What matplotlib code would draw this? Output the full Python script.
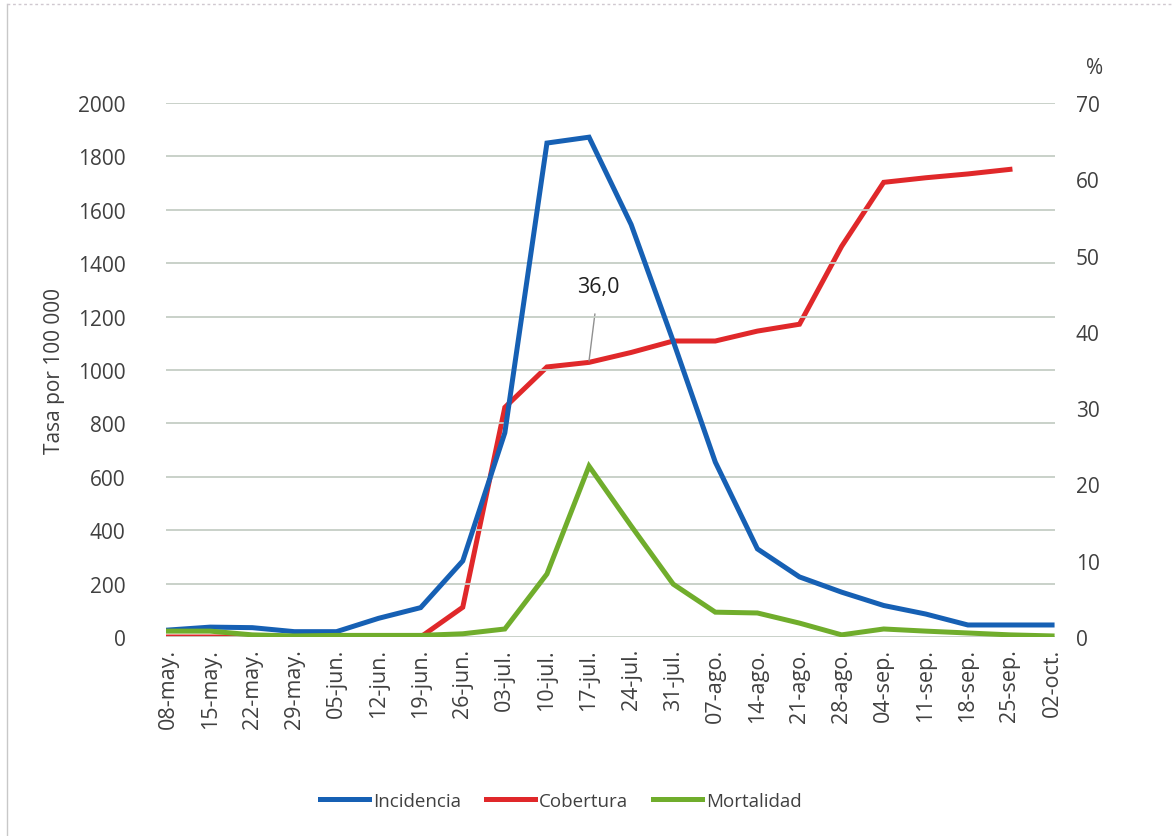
import matplotlib
matplotlib.use("Agg")
import matplotlib.pyplot as plt
from matplotlib.lines import Line2D

plt.rcParams['font.family'] = ['Open Sans', 'DejaVu Sans']

semanas = ["08-may.", "15-may.", "22-may.", "29-may.", "05-jun.", "12-jun.",
           "19-jun.", "26-jun.", "03-jul.", "10-jul.", "17-jul.", "24-jul.",
           "31-jul.", "07-ago.", "14-ago.", "21-ago.", "28-ago.", "04-sep.",
           "11-sep.", "18-sep.", "25-sep.", "02-oct."]

# Tasa por 100 000 habitantes
incidencia = [26, 37, 35, 20, 20, 70, 110, 285, 765, 1850, 1872, 1545,
              1108, 655, 330, 225, 168, 118, 86, 45, 45, 45]
mortalidad = [22, 22, 8, 4, 6, 6, 6, 12, 30, 236, 640, 416,
              198, 93, 90, 52, 8, 30, 22, 15, 8, 4]
# Cobertura de vacunación (%)
cobertura = [0, 0, 0, 0, 0, 0, 0, 3.9, 30.1, 35.4, 36.0, 37.3,
             38.8, 38.8, 40.1, 41.0, 51.2, 59.6, 60.2, 60.7, 61.3]

c_inc = "#1660b4"
c_cob = "#e0282a"
c_mor = "#70ad2c"
c_txt = "#404040"
c_grid = "#c5cec5"

fig = plt.figure(figsize=(11.74, 8.37), dpi=100)
W, H = 1174, 837
# chart-area border (left and top edges)
fig.add_artist(Line2D([7 / W, 7 / W], [0, (H - 5) / H], transform=fig.transFigure,
                      color="#c8c8c8", lw=1.0))
fig.add_artist(Line2D([7 / W, 1], [(H - 5) / H, (H - 5) / H], transform=fig.transFigure,
                      color="#d0c8d0", lw=1.0, ls=(0, (2, 2))))

ax = fig.add_axes([166 / W, (H - 638) / H, (1055 - 166) / W, (638 - 104) / H])
ax2 = ax.twinx()

x = list(range(len(semanas)))
lw = 3.6
l1, = ax.plot(x, incidencia, color=c_inc, lw=lw, solid_joinstyle="miter", zorder=3)
l3, = ax.plot(x, mortalidad, color=c_mor, lw=lw, solid_joinstyle="miter", zorder=4)
l2, = ax2.plot(x[:len(cobertura)], cobertura, color=c_cob, lw=lw,
               solid_joinstyle="miter", zorder=3)

ax.set_xlim(-0.05, len(semanas) - 1 + 0.07)
ax.set_ylim(0, 2000)
ax2.set_ylim(0, 70)
ax.set_yticks(range(0, 2001, 200))
ax2.set_yticks(range(0, 71, 10))
ax.set_xticks(x)
ax.set_xticklabels(semanas, rotation=90, fontsize=15.5, color=c_txt)

for a in (ax, ax2):
    for s in a.spines.values():
        s.set_visible(False)
    a.tick_params(length=0, labelsize=15, labelcolor=c_txt)
ax.tick_params(axis="x", labelsize=15.5)
ax.tick_params(axis="y", pad=29)
ax.tick_params(axis="x", pad=8)
ax2.tick_params(axis="y", pad=15)

ax.grid(axis="y", color=c_grid, linewidth=1.3)
ax.set_axisbelow(True)
ax.set_zorder(ax2.get_zorder() + 1)
ax.patch.set_visible(False)

ax.set_ylabel("Tasa por 100 000", fontsize=15, color=c_txt, labelpad=9.5)
fig.text(1095 / W, (H - 68) / H, "%", fontsize=15, color=c_txt,
         ha="center", va="center")

# Etiqueta de cobertura a 17-jul.
i_lab = 10
ax2.annotate(f"{cobertura[i_lab]:.1f}".replace(".", ","),
             xy=(i_lab, cobertura[i_lab] + 0.2), xycoords="data",
             xytext=(i_lab + 0.22, cobertura[i_lab] + 9.9), textcoords="data",
             fontsize=15.5, color="#202020", ha="center", va="center",
             arrowprops=dict(arrowstyle="-", color="#909090", lw=1.0,
                             shrinkA=10, shrinkB=0))

fig.legend([l1, l2, l3], ["Incidencia", "Cobertura", "Mortalidad"],
           loc="center", bbox_to_anchor=(561 / W, (H - 802) / H), ncol=3,
           frameon=False, fontsize=13.5, handlelength=2.6, handletextpad=0.25,
           columnspacing=1.3, labelcolor=c_txt)

fig.savefig("out.png", dpi=100)
